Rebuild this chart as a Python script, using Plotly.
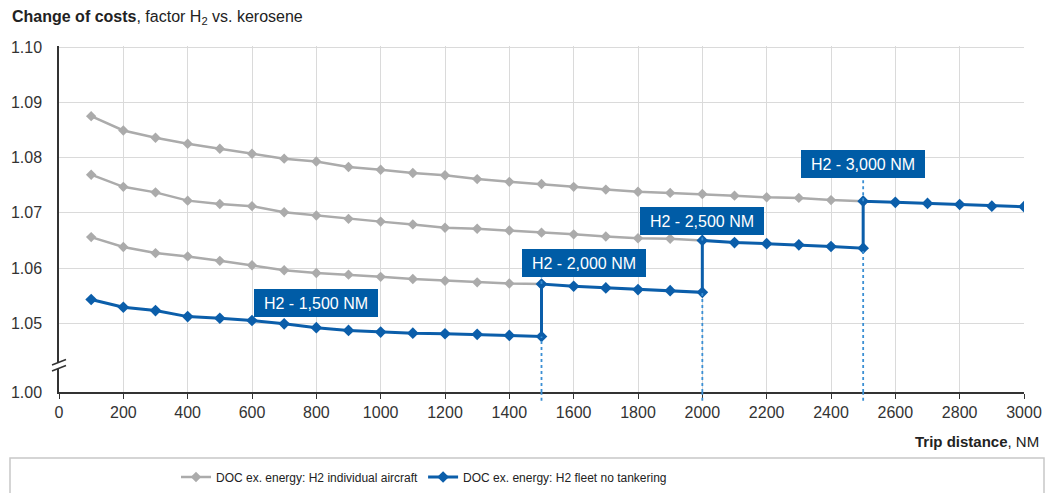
import plotly.graph_objects as go

# ---------------- data ----------------
distance = [100, 200, 300, 400, 500, 600, 700, 800, 900, 1000,
            1100, 1200, 1300, 1400, 1500, 1600, 1700, 1800, 1900, 2000,
            2100, 2200, 2300, 2400, 2500, 2600, 2700, 2800, 2900, 3000]

# Cost factor H2 vs kerosene per aircraft design range
h2_1500 = [1.0543, 1.0529, 1.0523, 1.0512, 1.0509, 1.0505, 1.0499, 1.0492, 1.0487, 1.0484,
           1.0482, 1.0481, 1.0480, 1.0478, 1.0476]
h2_2000 = [1.0656, 1.0638, 1.0627, 1.0621, 1.0613, 1.0605, 1.0596, 1.0591, 1.0588, 1.0584,
           1.0580, 1.0577, 1.0574, 1.0572, 1.0571, 1.0567, 1.0564, 1.0561, 1.0559, 1.0556]
h2_2500 = [1.0769, 1.0747, 1.0737, 1.0722, 1.0716, 1.0712, 1.0701, 1.0695, 1.0689, 1.0684,
           1.0679, 1.0673, 1.0671, 1.0668, 1.0664, 1.0661, 1.0657, 1.0654, 1.0653, 1.0650,
           1.0646, 1.0644, 1.0642, 1.0639, 1.0636]
h2_3000 = [1.0875, 1.0849, 1.0836, 1.0825, 1.0816, 1.0807, 1.0798, 1.0793, 1.0783, 1.0778,
           1.0772, 1.0768, 1.0761, 1.0756, 1.0752, 1.0747, 1.0742, 1.0738, 1.0736, 1.0734,
           1.0731, 1.0728, 1.0727, 1.0723, 1.0721, 1.0719, 1.0717, 1.0715, 1.0712, 1.0711]

design_ranges = [1500, 2000, 2500, 3000]
label_texts = ["H2 - 1,500 NM", "H2 - 2,000 NM", "H2 - 2,500 NM", "H2 - 3,000 NM"]

x_ticks = list(range(0, 3001, 200))
y_tick_values = [1.05, 1.06, 1.07, 1.08, 1.09, 1.10]
y_tick_texts = ["1.05", "1.06", "1.07", "1.08", "1.09", "1.10"]
y_break_text = "1.00"

series_name_gray = "DOC ex. energy: H2 individual aircraft"
series_name_blue = "DOC ex. energy: H2 fleet no tankering"

# ---------------- styling ----------------
GRAY = "#ababab"
BLUE = "#0b5eaa"
BOX = "#005ca6"
DOT = "#3b8fd4"
FONT = "Liberation Sans, Arial, sans-serif"

# broken axis: 1.00 drawn just below 1.05
Y_BREAK_POS = 1.05 - 0.01245
Y_TOP = 1.1002

fig = go.Figure()

# gray: individual aircraft curves (up to next design range)
gray_sets = [(h2_2000, 1500), (h2_2500, 2000), (h2_3000, 2500)]
for i, (vals, xmax) in enumerate(gray_sets):
    xs = [d for d in distance if d <= xmax]
    fig.add_trace(go.Scatter(
        x=xs, y=vals[:len(xs)], mode="lines+markers",
        line=dict(color=GRAY, width=2.5),
        marker=dict(symbol="diamond", size=8, color=GRAY),
        name=series_name_gray, legendgroup="gray", showlegend=(i == 0),
    ))

# blue: fleet without tankering, switching aircraft at each design range
all_series = [h2_1500, h2_2000, h2_2500, h2_3000]
bx, by = [], []
lo = 0
for vals, hi in zip(all_series, design_ranges):
    for d, v in zip(distance, vals):
        if lo <= d <= hi:
            bx.append(d)
            by.append(v)
    lo = hi
fig.add_trace(go.Scatter(
    x=bx, y=by, mode="lines+markers",
    line=dict(color=BLUE, width=3),
    marker=dict(symbol="diamond", size=9, color=BLUE),
    name=series_name_blue,
))

# labels (positions are layout)
label_pos = [(799, 1.0536), (1631, 1.0609), (1998, 1.0686), (2499, 1.0789)]
label_bottom = [1.0583, 1.0669, 1.0764]
for (lx, ly), t in zip(label_pos, label_texts):
    fig.add_annotation(x=lx, y=ly, xref="x", yref="y", text=t, showarrow=False,
                       font=dict(family=FONT, size=16, color="white"),
                       bgcolor=BOX, bordercolor=BOX, borderwidth=1, borderpad=3,
                       width=116, height=20)

shapes = []
# dotted guide lines at switch points (below the jump and above it, up to the label)
for k, xsw in enumerate(design_ranges[:3]):
    idx = distance.index(xsw)
    y_low = all_series[k][idx]
    y_high = all_series[k + 1][idx]
    shapes.append(dict(type="line", xref="x", yref="y", x0=xsw, x1=xsw,
                       y0=Y_BREAK_POS, y1=y_low,
                       line=dict(color=DOT, width=1.8, dash="dot")))
    shapes.append(dict(type="line", xref="x", yref="y", x0=xsw, x1=xsw,
                       y0=y_high, y1=label_bottom[k],
                       line=dict(color=DOT, width=1.8, dash="dot")))
    shapes.append(dict(type="line", xref="x", yref="paper", x0=xsw, x1=xsw,
                       y0=-0.025, y1=0,
                       line=dict(color=DOT, width=1.8, dash="dot")))

# axis break mark
def px_x(p):
    return (p - 59) / 965.0

def px_y(p):
    return (392 - p) / 346.0

shapes.append(dict(type="rect", xref="paper", yref="paper",
                   x0=px_x(57), x1=px_x(61), y0=px_y(369), y1=px_y(363),
                   fillcolor="white", line=dict(width=0)))
for off in (0, 6):
    shapes.append(dict(type="line", xref="paper", yref="paper",
                       x0=px_x(52), y0=px_y(365 + off), x1=px_x(66), y1=px_y(359.5 + off),
                       line=dict(color="#333333", width=1.5)))

# legend frame
shapes.append(dict(type="rect", xref="paper", yref="paper",
                   x0=px_x(10), x1=px_x(1044), y0=px_y(520), y1=px_y(458),
                   line=dict(color="#c8c8c8", width=1.5), fillcolor="rgba(0,0,0,0)"))

fig.update_layout(
    width=1047, height=493,
    margin=dict(l=59, r=23, t=46, b=101, autoexpand=False),
    paper_bgcolor="white", plot_bgcolor="white",
    font=dict(family=FONT, size=16, color="#333333"),
    shapes=shapes,
    showlegend=True,
    legend=dict(orientation="h", x=px_x(176), xanchor="left",
                y=px_y(477), yanchor="middle",
                font=dict(family=FONT, size=12, color="#222222"),
                itemwidth=30, tracegroupgap=0, bgcolor="rgba(0,0,0,0)"),
    xaxis=dict(range=[0, 3000], tickvals=x_ticks, showgrid=True, gridcolor="#dadada",
               gridwidth=1, showline=True, linecolor="#333333", linewidth=1.5,
               ticks="outside", ticklen=5, tickcolor="#333333", zeroline=False,
               automargin=False, tickfont=dict(size=16, color="#333333")),
    yaxis=dict(range=[Y_BREAK_POS, Y_TOP],
               tickvals=[Y_BREAK_POS] + y_tick_values,
               ticktext=[y_break_text] + y_tick_texts,
               showgrid=True, gridcolor="#dadada", gridwidth=1,
               showline=True, linecolor="#333333", linewidth=1.5,
               ticks="", zeroline=False, ticklabelstandoff=12, automargin=False,
               tickfont=dict(size=16, color="#333333")),
)

fig.add_annotation(xref="paper", yref="paper", x=px_x(10), y=px_y(17),
                   xanchor="left", yanchor="middle", showarrow=False,
                   text="<b>Change of costs</b>, factor H<sub>2</sub> vs. kerosene",
                   font=dict(family=FONT, size=16, color="#222222"))
fig.add_annotation(xref="paper", yref="paper", x=px_x(1041), y=px_y(441),
                   xanchor="right", yanchor="middle", showarrow=False,
                   text="<b>Trip distance</b>, NM",
                   font=dict(family=FONT, size=15, color="#222222"))

fig.write_html("out.html", config={"displayModeBar": False},
               post_script="document.body.style.margin='0';document.body.style.padding='0';")
